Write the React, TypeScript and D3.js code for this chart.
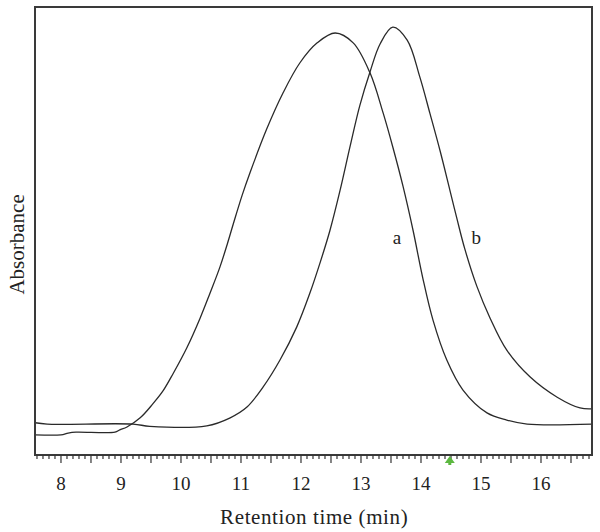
import React, { useRef, useEffect } from 'react';
import * as d3 from 'd3';

// retention time (min) and absorbance (arbitrary units)
const timeA = [7.57, 8.0, 8.12, 8.25, 8.9, 8.98, 9.1, 9.32, 9.53, 9.7, 9.87, 10.1, 10.32, 10.48, 10.65, 10.77, 10.87, 11.02, 11.15, 11.43, 11.7, 11.98, 12.27, 12.57, 12.87, 13.15, 13.37, 13.53, 13.7, 13.87, 14.03, 14.2, 14.43, 14.7, 15.1, 15.43, 15.77, 16.85];
const absA = [0.045, 0.045, 0.049, 0.051, 0.051, 0.056, 0.0625, 0.083, 0.114, 0.143, 0.182, 0.24, 0.306, 0.36, 0.42, 0.47, 0.515, 0.58, 0.63, 0.728, 0.808, 0.875, 0.92, 0.942, 0.92, 0.853, 0.763, 0.6875, 0.6, 0.5, 0.395, 0.301, 0.212, 0.145, 0.094, 0.078, 0.069, 0.069];

const timeB = [7.57, 7.77, 9.2, 9.48, 10.43, 10.82, 11.1, 11.37, 11.65, 11.93, 12.15, 12.32, 12.48, 12.65, 12.82, 12.98, 13.15, 13.32, 13.53, 13.77, 13.98, 14.15, 14.32, 14.48, 14.6, 14.73, 14.93, 15.15, 15.43, 15.82, 16.27, 16.65, 16.85];
const absB = [0.072, 0.069, 0.069, 0.064, 0.065, 0.083, 0.107, 0.152, 0.212, 0.286, 0.362, 0.43, 0.5, 0.59, 0.69, 0.78, 0.855, 0.918, 0.955, 0.926, 0.844, 0.762, 0.678, 0.592, 0.527, 0.46, 0.377, 0.306, 0.234, 0.174, 0.129, 0.105, 0.103];

const xTicks = [8, 9, 10, 11, 12, 13, 14, 15, 16];
const curveLabels = ['a', 'b'];
const labelTime = [13.6, 14.92];
const labelAbs = [0.47, 0.47];
const markerTime = [14.48];

const App = () => {
  const ref = useRef<SVGSVGElement>(null);

  useEffect(() => {
    const svg = d3.select(ref.current);
    svg.selectAll('*').remove();

    const margin = { top: 7, right: 8, bottom: 77, left: 35 };
    const width = 600 - margin.left - margin.right;
    const height = 532 - margin.top - margin.bottom;
    const font = '"Liberation Serif", "DejaVu Serif", serif';

    const x = d3.scaleLinear().domain([7.567, 16.85]).range([0, width]);
    const y = d3.scaleLinear().domain([0, 1]).range([height, 0]);

    const g = svg.append('g').attr('transform', `translate(${margin.left},${margin.top})`);

    // traces
    const line = d3.line<[number, number]>()
      .x(d => x(d[0]))
      .y(d => y(d[1]))
      .curve(d3.curveCatmullRom.alpha(0.5));

    const series = [d3.zip(timeA, absA), d3.zip(timeB, absB)] as [number, number][][];
    g.selectAll('.trace')
      .data(series)
      .enter().append('path')
      .attr('class', 'trace')
      .attr('d', d => line(d))
      .attr('fill', 'none')
      .attr('stroke', '#2a2a2a')
      .attr('stroke-width', 1.3);

    // frame
    g.append('rect')
      .attr('x', 0).attr('y', 0)
      .attr('width', width).attr('height', height)
      .attr('fill', 'none')
      .attr('stroke', '#3a3a3a')
      .attr('stroke-width', 2);

    // minor ticks every 0.1, longer ones every 0.5
    const minor = d3.range(76, 169).map(i => i / 10);
    g.selectAll('.tick-m')
      .data(minor)
      .enter().append('line')
      .attr('x1', d => x(d)).attr('x2', d => x(d))
      .attr('y1', height)
      .attr('y2', d => height + (Math.round(d * 10) % 5 === 0 ? 8 : 4))
      .attr('stroke', '#333')
      .attr('stroke-width', 1.2);

    g.selectAll('.tick-label')
      .data(xTicks)
      .enter().append('text')
      .attr('x', d => x(d))
      .attr('y', height + 35)
      .attr('text-anchor', 'middle')
      .attr('font-family', font)
      .attr('font-size', 19)
      .attr('fill', '#222')
      .text(d => d);

    g.append('text')
      .attr('x', x(12.22))
      .attr('y', height + 69)
      .attr('text-anchor', 'middle')
      .attr('font-family', font)
      .attr('font-size', 21)
      .attr('letter-spacing', 0.6)
      .attr('fill', '#222')
      .text('Retention time (min)');

    g.append('text')
      .attr('transform', `translate(${-11},${y(0.47)}) rotate(-90)`)
      .attr('text-anchor', 'middle')
      .attr('font-family', font)
      .attr('font-size', 21)
      .attr('fill', '#222')
      .text('Absorbance');

    g.selectAll('.curve-label')
      .data(curveLabels)
      .enter().append('text')
      .attr('x', (d, i) => x(labelTime[i]))
      .attr('y', (d, i) => y(labelAbs[i]))
      .attr('text-anchor', 'middle')
      .attr('font-family', font)
      .attr('font-size', 19)
      .attr('fill', '#222')
      .text(d => d);

    // small green marker under the axis
    g.selectAll('.marker')
      .data(markerTime)
      .enter().append('path')
      .attr('d', d => `M${x(d)},${height + 1}l-5,7h3.5v2h3v-2h3.5z`)
      .attr('fill', '#5cb840');
  }, []);

  return (
    <svg ref={ref} width={600} height={532}
      style={{ position: 'absolute', left: 0, top: 0, background: '#fff' }} />
  );
};

export default App;
